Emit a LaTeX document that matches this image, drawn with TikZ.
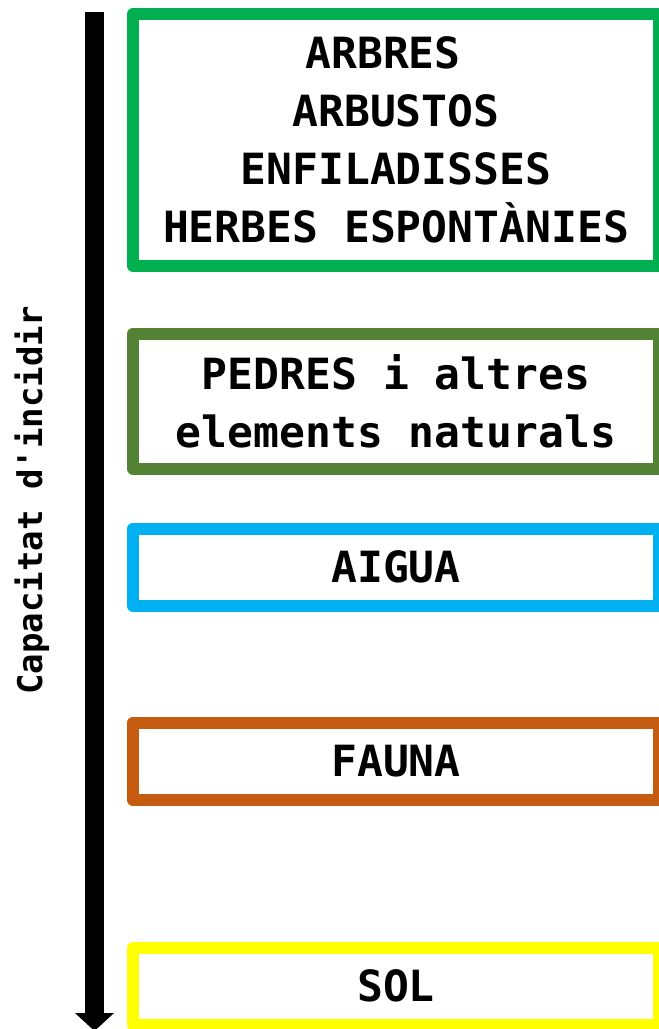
\documentclass[tikz,border=0pt]{standalone}
\usepackage{fontspec}
\setmonofont{DejaVu Sans Mono}
\usetikzlibrary{arrows.meta}
\definecolor{cgreen}{HTML}{00B050}
\definecolor{colive}{HTML}{548235}
\definecolor{cblue}{HTML}{00B0F0}
\definecolor{corange}{HTML}{C55A11}
\definecolor{cyellow}{HTML}{FFFF00}
\tikzset{
  catbox/.style={draw=#1, line width=12pt, line join=round, rectangle,
    minimum width=526pt, inner sep=0pt, align=center,
    font=\fontsize{43}{58}\selectfont\ttfamily\bfseries, text=black},
  axislabel/.style={rotate=90, anchor=base, inner sep=0pt,
    font=\fontsize{34}{40}\selectfont\ttfamily\bfseries},
  axisarrow/.style={line width=19pt, -{Triangle[width=38pt,length=18pt]}}
}
\begin{document}
\begin{tikzpicture}[x=1pt,y=-1pt]
\useasboundingbox (0,0) rectangle (659,1029);
\coordinate (atop) at (94.5,12);
\coordinate (abot) at (94.5,1031);
\draw[axisarrow] (atop) -- (abot);
\node[axislabel] (lbl) at (42,500) {Capacitat d'incidir};
\node[catbox=cgreen, minimum height=252pt] (arbres) at (396,140)
  {ARBRES\hphantom{A}\\ARBUSTOS\\ENFILADISSES\\HERBES ESPONTÀNIES};
\node[catbox=colive, minimum height=135pt] (pedres) at (396,401)
  {PEDRES i altres\\elements naturals};
\node[catbox=cblue, minimum height=77.5pt] (aigua) at (396,567.25) {AIGUA};
\node[catbox=corange, minimum height=77.5pt] (fauna) at (396,761.25) {FAUNA};
\node[catbox=cyellow, minimum height=76.5pt] (sol) at (396,986.25) {SOL};
\end{tikzpicture}
\end{document}
